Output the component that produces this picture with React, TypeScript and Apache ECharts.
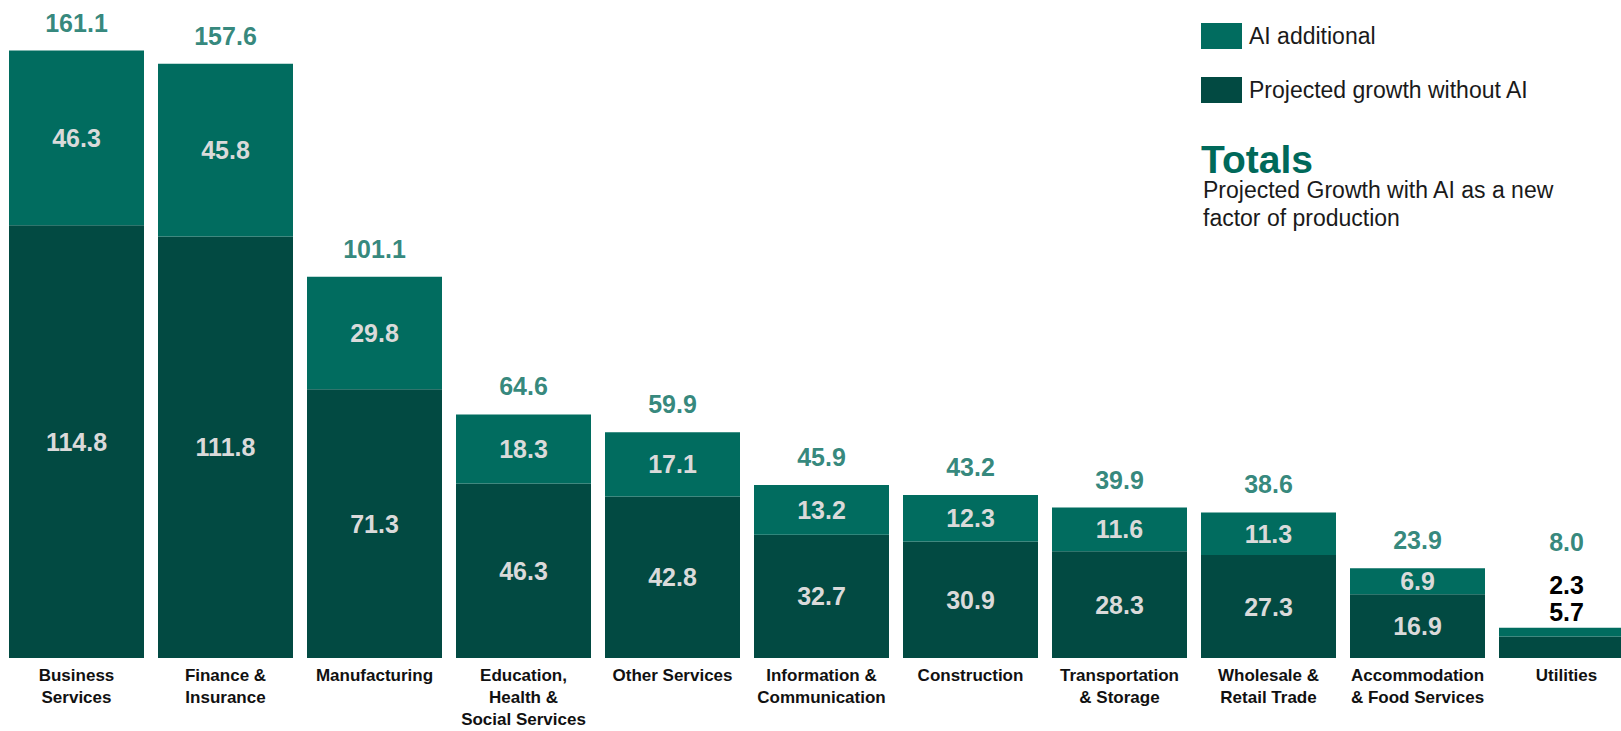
import React, { useEffect, useRef } from "react";
import * as echarts from "echarts";

const categories = [
  "Business\nServices",
  "Finance &\nInsurance",
  "Manufacturing",
  "Education,\nHealth &\nSocial Services",
  "Other Services",
  "Information &\nCommunication",
  "Construction",
  "Transportation\n& Storage",
  "Wholesale &\nRetail Trade",
  "Accommodation\n& Food Services",
  "Utilities",
];
const withoutAI = [114.8, 111.8, 71.3, 46.3, 42.8, 32.7, 30.9, 28.3, 27.3, 16.9, 5.7];
const aiAdditional = [46.3, 45.8, 29.8, 18.3, 17.1, 13.2, 12.3, 11.6, 11.3, 6.9, 2.3];
const totals = [161.1, 157.6, 101.1, 64.6, 59.9, 45.9, 43.2, 39.9, 38.6, 23.9, 8.0];

const SERIES_AI = "AI additional";
const SERIES_BASE = "Projected growth without AI";

const FONT = "'Liberation Sans', Arial, Helvetica, sans-serif";
const C_AI = "#016C5F";
const C_BASE = "#024A42";
const C_TOTAL = "#00695A";
const C_INNER = "#DADADA";

export default function App() {
  const ref = useRef<HTMLDivElement>(null);

  useEffect(() => {
    document.body.style.margin = "0";
    if (!ref.current) return;
    const chart = echarts.init(ref.current, undefined, { renderer: "svg" });
    const last = categories.length - 1;

    const innerLabel = {
      show: true,
      position: "inside",
      color: C_INNER,
      fontSize: 25,
      fontWeight: "bold",
      fontFamily: FONT,
      lineHeight: 26,
      formatter: (p: any) => Number(p.value).toFixed(1),
    };

    const baseData = withoutAI.map((v, i) =>
      i === last
        ? { value: v, label: { position: "top", distance: 12, color: "#000" } }
        : v
    );
    const aiData = aiAdditional.map((v, i) =>
      i === last
        ? { value: v, label: { position: "top", distance: 30, color: "#000" } }
        : v
    );
    const totalData = totals.map((v, i) =>
      i === last ? { value: v, label: { distance: 73 } } : v
    );

    chart.setOption({
      animation: false,
      backgroundColor: "#ffffff",
      grid: {
        left: 2,
        width: 1639,
        top: 17,
        bottom: 73,
        containLabel: false,
        outerBoundsMode: "none",
      },
      legend: {
        orient: "vertical",
        left: 1201,
        top: 23,
        padding: 0,
        itemWidth: 41,
        itemHeight: 26,
        itemGap: 28,
        icon: "rect",
        data: [SERIES_AI, SERIES_BASE],
        textStyle: {
          fontSize: 23,
          color: "#1a1a1a",
          fontFamily: FONT,
          padding: [0, 0, 0, 2],
        },
      },
      graphic: [
        {
          type: "text",
          x: 1201,
          y: 144,
          style: {
            text: "Totals",
            font: `bold 39px ${FONT}`,
            fill: C_TOTAL,
            lineHeight: 30,
          },
        },
        {
          type: "text",
          x: 1203,
          y: 176,
          style: {
            text: "Projected Growth with AI as a new\nfactor of production",
            font: `23px ${FONT}`,
            fill: "#1a1a1a",
            lineHeight: 28,
          },
        },
      ],
      xAxis: {
        type: "category",
        data: categories,
        axisLine: { show: false },
        axisTick: { show: false },
        axisLabel: {
          interval: 0,
          margin: 6,
          fontSize: 17,
          fontWeight: "bold",
          lineHeight: 22,
          color: "#111111",
          fontFamily: FONT,
          verticalAlign: "top",
        },
      },
      yAxis: {
        type: "value",
        min: 0,
        max: 170,
        show: false,
        splitLine: { show: false },
      },
      series: [
        {
          name: SERIES_BASE,
          type: "bar",
          stack: "total",
          barWidth: 135,
          itemStyle: { color: C_BASE },
          label: innerLabel,
          data: baseData,
        },
        {
          name: SERIES_AI,
          type: "bar",
          stack: "total",
          barWidth: 135,
          itemStyle: { color: C_AI },
          label: innerLabel,
          data: aiData,
        },
        {
          name: "Totals",
          type: "scatter",
          symbolSize: 0,
          silent: true,
          z: 10,
          label: {
            show: true,
            position: "top",
            distance: 15,
            color: C_TOTAL,
            fontSize: 25,
            fontWeight: "bold",
            fontFamily: FONT,
            lineHeight: 26,
            formatter: (p: any) => Number(p.value).toFixed(1),
          },
          data: totalData,
        },
      ],
    });

    return () => chart.dispose();
  }, []);

  return <div ref={ref} style={{ width: 1621, height: 731 }} />;
}
